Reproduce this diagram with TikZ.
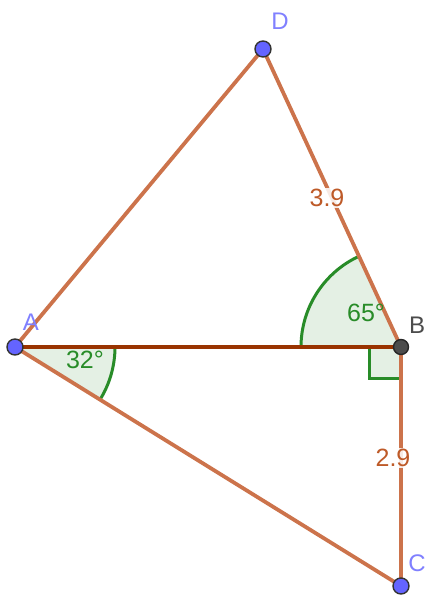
\documentclass[tikz,border=0pt]{standalone}
\usepackage{fontspec}
\setmainfont{Liberation Sans}
\begin{document}
\begin{tikzpicture}[x=1pt,y=1pt,
  seg/.style={line width=3.8pt,color=segcol},
  segdark/.style={line width=4.2pt,color=segdark},
  pt/.style={circle,draw=black!80,line width=1.4pt,fill=ptblue,inner sep=0pt,minimum size=16pt},
  ptgray/.style={circle,draw=black!85,line width=1.4pt,fill=black!70,inner sep=0pt,minimum size=15pt},
  lbl/.style={font=\fontsize{24}{28}\selectfont,text=lblblue},
  num/.style={font=\fontsize{25}{30}\selectfont,text=numcol,fill=white,fill opacity=0.85,text opacity=1,inner sep=1pt},
  ang/.style={font=\fontsize{25}{30}\selectfont,text=anggreen,inner sep=0pt},
  angfill/.style={fill=angfill},
  angline/.style={draw=anggreen,line width=3pt}
]
\definecolor{segcol}{RGB}{204,115,75}
\definecolor{segdark}{RGB}{153,51,0}
\definecolor{ptblue}{RGB}{100,100,255}
\definecolor{lblblue}{RGB}{128,128,255}
\definecolor{numcol}{RGB}{190,90,40}
\definecolor{anggreen}{RGB}{40,140,40}
\definecolor{angfill}{RGB}{228,240,228}
\useasboundingbox (0,0) rectangle (425,596);
\coordinate (A) at (15,249);
\coordinate (B) at (401,249);
\coordinate (C) at (401,10);
\coordinate (D) at (263,547);
% angle fills
\fill[angfill] (A) -- ++(0:100) arc[start angle=0,end angle=-31.76,radius=100] -- cycle;
\fill[angfill] (B) -- ++(114.85:100) arc[start angle=114.85,end angle=180,radius=100] -- cycle;
\fill[angfill] (B) rectangle ++(-32,-32);
\draw[angline] ([shift={(0:100)}]A) arc[start angle=0,end angle=-31.76,radius=100];
\draw[angline] ([shift={(114.85:100)}]B) arc[start angle=114.85,end angle=180,radius=100];
\draw[angline] ([shift={(0,-32)}]B) -- ++(-32,0) -- ++(0,32);
% segments
\draw[seg] (A) -- (D);
\draw[seg] (D) -- (B);
\draw[seg] (B) -- (C);
\draw[seg] (C) -- (A);
\draw[segdark] (A) -- (B);
% labels
\node[num] (l39) at (327,398) {3.9};
\node[num] (l29) at (393,138) {2.9};
\node[ang] (a32) at (85,236) {32°};
\node[ang] (a65) at (366,283) {65°};
% points
\node[pt] (pA) at (A) {};
\node[ptgray] (pB) at (B) {};
\node[pt] (pC) at (C) {};
\node[pt] (pD) at (D) {};
\node[lbl] (tA) at (31,274) {A};
\node[lbl,text=black!70] (tB) at (417,271) {B};
\node[lbl] (tC) at (417,33) {C};
\node[lbl] (tD) at (280,575) {D};
\end{tikzpicture}
\end{document}
